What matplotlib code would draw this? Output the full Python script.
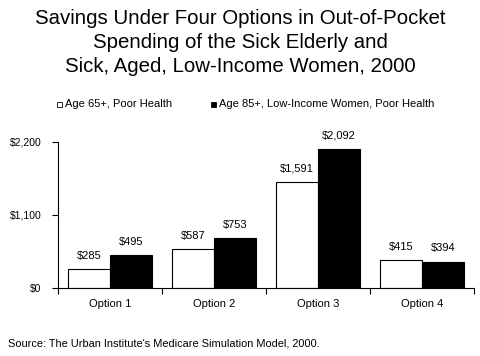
import matplotlib
matplotlib.use("Agg")
import matplotlib.pyplot as plt
from matplotlib.patches import Rectangle
import numpy as np

categories = ["Option 1", "Option 2", "Option 3", "Option 4"]
series_names = ["Age 65+, Poor Health", "Age 85+, Low-Income Women, Poor Health"]
values_65 = [285, 587, 1591, 415]
values_85 = [495, 753, 2092, 394]
ytick_vals = [0, 1100, 2200]
ytick_labels = ["$0", "$1,100", "$2,200"]

plt.rcParams['font.family'] = ['Liberation Sans', 'DejaVu Sans']

fig = plt.figure(figsize=(4.81, 3.56), dpi=100)
ax = fig.add_axes([58/481, 1-288/356, (474-58)/481, (288-141.7)/356])

x = np.arange(len(categories))
w = 0.405
b1 = ax.bar(x - w/2, values_65, w, color="white", edgecolor="black", linewidth=0.8)
b2 = ax.bar(x + w/2, values_85, w, color="black", edgecolor="black", linewidth=0.8)

fmt = lambda v: "${:,.0f}".format(v)
ax.bar_label(b1, labels=[fmt(v) for v in values_65], padding=6, fontsize=8)
ax.bar_label(b2, labels=[fmt(v) for v in values_85], padding=6, fontsize=8)

ax.set_xlim(-0.5, len(categories) - 0.5)
ax.set_ylim(0, 2200)
ax.set_yticks(ytick_vals)
ax.set_yticklabels(ytick_labels, fontsize=7.5)
ax.set_xticks(x)
ax.set_xticklabels(categories, fontsize=8)
ax.set_xticks(np.arange(len(categories) + 1) - 0.5, minor=True)
ax.tick_params(axis='x', which='major', length=0, pad=8)
ax.tick_params(axis='x', which='minor', length=4, direction='out', width=0.8)
ax.tick_params(axis='y', length=4, direction='out', width=0.8, pad=8)
for s in ['top', 'right']:
    ax.spines[s].set_visible(False)
for s in ['left', 'bottom']:
    ax.spines[s].set_linewidth(0.8)

fig.text(0.5, 1 - 9/356,
         "Savings Under Four Options in Out-of-Pocket\nSpending of the Sick Elderly and\nSick, Aged, Low-Income Women, 2000",
         ha='center', va='top', fontsize=14.7, linespacing=1.35)

# legend
ly = 1 - 104/356
sq = 5
fig.patches.append(Rectangle((57/481, ly - sq/2/356), sq/481, sq/356, transform=fig.transFigure,
                             facecolor='white', edgecolor='black', linewidth=0.6))
fig.text(65/481, ly, series_names[0], fontsize=8, va='center', ha='left')
fig.patches.append(Rectangle((211/481, ly - sq/2/356), sq/481, sq/356, transform=fig.transFigure,
                             facecolor='black', edgecolor='black', linewidth=0.6))
fig.text(219/481, ly, series_names[1], fontsize=8, va='center', ha='left')

fig.text(8/481, 1 - 343/356, "Source: The Urban Institute's Medicare Simulation Model, 2000.",
         fontsize=7.9, va='center', ha='left')

fig.savefig("out.png", dpi=100)
